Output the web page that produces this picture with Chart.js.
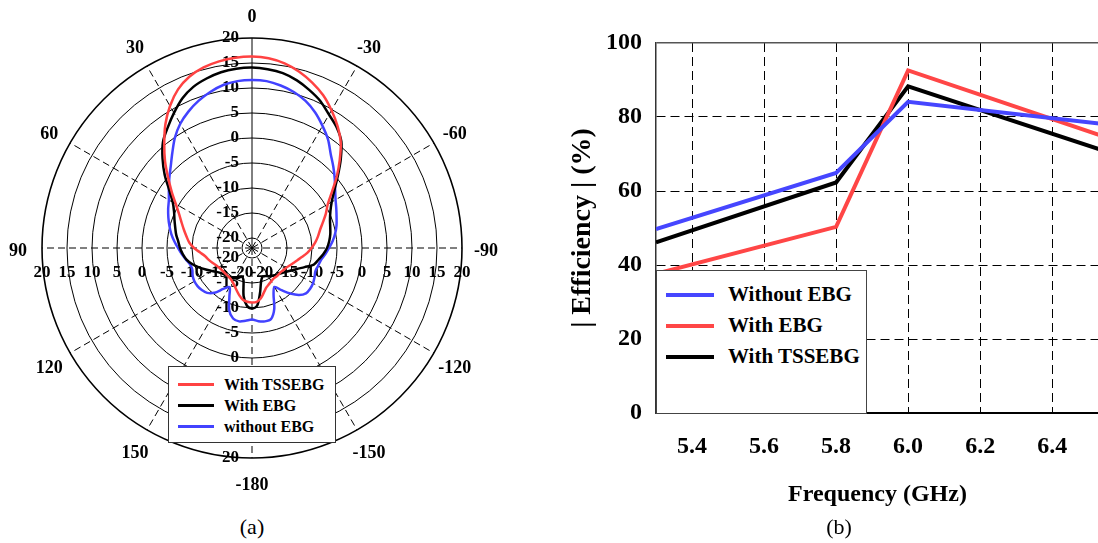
<!DOCTYPE html>
<html>
<head>
<meta charset="utf-8">
<script src="https://cdn.jsdelivr.net/npm/chart.js@4.4.1/dist/chart.umd.min.js"></script>
<style>
  html, body { margin: 0; padding: 0; background: #fff; }
  body { width: 1098px; height: 543px; overflow: hidden; position: relative;
         font-family: "Liberation Serif", "Times New Roman", serif; color: #000; }
  #polarBox { position: absolute; left: 0; top: 0; }
  #effBox { position: absolute; left: 540px; top: 0; }
  .legend { position: absolute; background: #fff; box-sizing: border-box; font-weight: bold; }
  .legend .row { display: flex; align-items: center; white-space: nowrap; }
  .legend .swatch { display: inline-block; }
  #legendA { left: 168px; top: 366px; width: 168px; height: 77px; padding: 7px 0 0 9px;
             font-size: 16px; border: 1px solid #333; }
  #legendA .row { height: 21px; }
  #legendA .swatch { width: 36px; height: 3px; margin-right: 10px; }
  #legendB { left: 656px; top: 270px; width: 211px; height: 144px; padding: 8px 0 0 9px;
             font-size: 21px; border: 1.5px solid #444; }
  #legendB .row { height: 31px; }
  #legendB .swatch { width: 48px; height: 4px; margin-right: 14px; }
  .caption { position: absolute; font-size: 22px; line-height: 1; transform: translateX(-50%); }
</style>
</head>
<body>
<div id="polarBox"><canvas id="polarChart" width="504" height="500"></canvas></div>
<div id="effBox"><canvas id="effChart" width="560" height="543"></canvas></div>
<div class="legend" id="legendA"></div>
<div class="legend" id="legendB"></div>
<div class="caption" style="left:252px; top:516px;">(a)</div>
<div class="caption" style="left:839px; top:516px;">(b)</div>
<script>
// (a) radiation pattern, dB, angles in the order the radar draws them (clockwise from top)
const polarAngles = [
  0, -5, -10, -15, -20, -25, -30, -35, -40, -45, -50, -55,
  -60, -65, -70, -75, -80, -85, -90, -95, -100, -105, -110, -115,
  -120, -125, -130, -135, -140, -145, -150, -155, -160, -165, -170, -175,
  -180, 175, 170, 165, 160, 155, 150, 145, 140, 135, 130, 125,
  120, 115, 110, 105, 100, 95, 90, 85, 80, 75, 70, 65,
  60, 55, 50, 45, 40, 35, 30, 25, 20, 15, 10, 5
];
const gainTSSEBG = [
  16.3, 16.1, 15.5, 14.5, 13.2, 11.7, 9.8, 7.8, 5.6, 2.8, 0.1, -2.5,
  -4.5, -5.7, -6.9, -7.9, -8.6, -9.3, -10.1, -10.9, -11.8, -12.6, -13.2, -13.7,
  -14.1, -14.3, -14.5, -14.5, -14.5, -14.5, -14.3, -14.0, -13.6, -12.8, -11.8, -11.2,
  -11.1, -11.2, -11.5, -12.2, -13.0, -13.7, -14.2, -14.5, -14.6, -14.6, -14.6, -14.5,
  -14.3, -14.0, -13.5, -13.0, -12.5, -11.6, -10.4, -9.4, -8.7, -7.9, -7.0, -5.9,
  -4.4, -2.4, -0.1, 2.6, 5.3, 8.2, 10.8, 13.0, 14.5, 15.4, 15.9, 16.2
];
const gainEBG = [
  14.1, 13.9, 13.5, 12.7, 11.6, 10.4, 8.8, 7.5, 5.8, 3.1, 0.4, -1.9,
  -3.6, -4.7, -5.4, -5.8, -6.1, -6.5, -7.0, -7.7, -8.5, -9.2, -10.8, -12.1,
  -13.0, -13.7, -14.2, -14.6, -14.9, -15.2, -15.5, -15.8, -15.9, -15.0, -12.8, -10.4,
  -9.9, -10.4, -12.3, -15.4, -15.9, -15.4, -15.0, -14.8, -14.6, -14.4, -14.1, -13.6,
  -12.8, -11.8, -10.7, -9.6, -8.7, -8.1, -7.6, -7.2, -6.6, -6.1, -5.5, -4.8,
  -3.7, -1.8, 0.8, 3.3, 5.7, 7.4, 9.2, 11.0, 12.3, 13.1, 13.7, 14.0
];
const gainNoEBG = [
  11.6, 11.5, 11.0, 10.3, 9.3, 7.9, 6.2, 4.5, 2.5, 1.0, -0.4, -1.7,
  -2.7, -3.4, -4.0, -4.5, -5.1, -5.8, -6.6, -7.3, -8.0, -8.3, -8.5, -8.2,
  -7.9, -7.8, -7.9, -8.7, -10.1, -11.7, -13.0, -11.8, -9.0, -7.3, -7.1, -7.3,
  -7.7, -7.4, -7.1, -7.4, -8.7, -11.3, -13.0, -12.0, -10.3, -9.3, -8.9, -8.7,
  -8.7, -8.9, -9.3, -9.2, -8.6, -7.9, -7.2, -6.4, -5.6, -4.9, -4.2, -3.5,
  -2.8, -1.7, -0.4, 1.0, 2.8, 4.9, 6.7, 8.1, 9.3, 10.3, 11.1, 11.5
];
const gainRings = [-20, -15, -10, -5, 0, 5, 10, 15, 20];

// (b) efficiency vs frequency
const freqGHz = [5.3, 5.8, 6.0, 6.6];
const effWithoutEBG = [49.7, 64.9, 84.1, 77.5];
const effWithEBG = [37.6, 50.3, 92.6, 72.9];
const effWithTSSEBG = [46.1, 62.3, 88.3, 69.1];
const freqTicks = [5.4, 5.6, 5.8, 6.0, 6.2, 6.4];
const effTicks = [0, 20, 40, 60, 80, 100];

const serif = '"Liberation Serif", "Times New Roman", serif';

// ring values along the four axes, angle names around the rim
const polarText = {
  id: 'polarText',
  beforeDatasetsDraw(chart) {
    const r = chart.scales.r;
    const ctx = chart.ctx;
    ctx.save();
    ctx.font = 'bold 17px ' + serif;
    ctx.fillStyle = '#000';
    ctx.textBaseline = 'middle';
    gainRings.forEach(v => {
      const d = r.getDistanceFromCenterForValue(v);
      const t = String(v);
      ctx.textAlign = 'right';
      ctx.fillText(t, r.xCenter - 13, r.yCenter - d);
      ctx.fillText(t, r.xCenter - 13, r.yCenter + d);
      ctx.textAlign = 'center';
      ctx.fillText(t, r.xCenter - d, r.yCenter + 25);
      ctx.fillText(t, r.xCenter + d, r.yCenter + 25);
    });
    ctx.font = 'bold 18px ' + serif;
    ctx.textAlign = 'center';
    chart.data.labels.forEach((lbl, i) => {
      if (i % 6 !== 0) return;
      const p = r.getPointPosition(i, r.drawingArea + 24);
      ctx.fillText(lbl, p.x, p.y + 3);
    });
    ctx.restore();
  }
};

const polarChart = new Chart(document.getElementById('polarChart'), {
  type: 'radar',
  data: {
    labels: polarAngles.map(String),
    datasets: [
      { label: 'With TSSEBG', data: gainTSSEBG, borderColor: '#ff4242' },
      { label: 'With EBG', data: gainEBG, borderColor: '#000000' },
      { label: 'without EBG', data: gainNoEBG, borderColor: '#4242ff' }
    ]
  },
  options: {
    responsive: false,
    animation: false,
    layout: { padding: { left: 42, right: 42, top: 38, bottom: 42 } },
    plugins: { legend: { display: false }, tooltip: { enabled: false } },
    elements: {
      point: { radius: 0 },
      line: { borderWidth: 2.5, tension: 0.3, fill: false }
    },
    scales: {
      r: {
        min: -22,
        max: 20,
        startAngle: 0,
        afterBuildTicks: s => { s.ticks = gainRings.map(v => ({ value: v })); },
        ticks: { display: false },
        grid: {
          circular: true,
          color: '#000',
          lineWidth: c => (c.tick && c.tick.value === 20 ? 1.6 : 1)
        },
        angleLines: {
          display: true,
          color: '#000',
          lineWidth: c => (c.index % 6 === 0 ? 1 : 0),
          borderDash: c => (c.index === 0 ? [] : [7, 4])
        },
        pointLabels: { display: false }
      }
    }
  },
  plugins: [polarText]
});

const effChart = new Chart(document.getElementById('effChart'), {
  type: 'line',
  data: {
    datasets: [
      { label: 'Without EBG', data: freqGHz.map((f, i) => ({ x: f, y: effWithoutEBG[i] })), borderColor: '#4646ff' },
      { label: 'With EBG', data: freqGHz.map((f, i) => ({ x: f, y: effWithEBG[i] })), borderColor: '#ff4646' },
      { label: 'With TSSEBG', data: freqGHz.map((f, i) => ({ x: f, y: effWithTSSEBG[i] })), borderColor: '#000000' }
    ]
  },
  options: {
    responsive: false,
    animation: false,
    layout: { padding: { top: 43, right: 1, left: 0, bottom: 0 } },
    plugins: { legend: { display: false }, tooltip: { enabled: false } },
    elements: {
      point: { radius: 0 },
      line: { borderWidth: 4, tension: 0 }
    },
    scales: {
      x: {
        type: 'linear',
        min: 5.3,
        max: 6.53,
        afterBuildTicks: s => { s.ticks = freqTicks.map(v => ({ value: v })); },
        afterFit: s => { s.height = 130; },
        ticks: {
          padding: 19,
          color: '#000',
          autoSkip: false,
          maxRotation: 0,
          font: { family: serif, size: 24, weight: 'bold' },
          callback: v => v.toFixed(1)
        },
        grid: { color: '#000', lineWidth: 1, drawTicks: false },
        border: { display: true, color: '#000', width: 2, dash: c => (c.type === 'tick' ? [9, 5] : []) },
        title: {
          display: true,
          text: 'Frequency (GHz)',
          color: '#000',
          font: { family: serif, size: 24, weight: 'bold' },
          padding: { top: 0, bottom: 34 }
        }
      },
      y: {
        min: 0,
        max: 100,
        afterBuildTicks: s => { s.ticks = effTicks.map(v => ({ value: v })); },
        afterFit: s => { s.width = 116; },
        ticks: {
          padding: 14,
          color: '#000',
          font: { family: serif, size: 24, weight: 'bold' }
        },
        grid: {
          color: c => {
            if (c.tick && c.tick.value === 0) return 'rgba(0,0,0,0)';
            return c.tick && c.tick.value === 100 ? '#555' : '#000';
          },
          lineWidth: c => (c.tick && c.tick.value === 100 ? 1.5 : 1),
          drawTicks: false
        },
        border: {
          display: true,
          color: '#333',
          width: 1.5,
          dash: c => (c.type === 'tick' && c.tick.value !== 100 ? [9, 5] : [])
        },
        title: {
          display: true,
          text: '| Efficiency | (%)',
          color: '#000',
          font: { family: serif, size: 28, weight: 'bold' },
          padding: { top: 26, bottom: 0 }
        }
      }
    }
  }
});

function buildLegend(el, chart) {
  chart.data.datasets.forEach(ds => {
    const row = document.createElement('div');
    row.className = 'row';
    const sw = document.createElement('span');
    sw.className = 'swatch';
    sw.style.background = ds.borderColor;
    const txt = document.createElement('span');
    txt.textContent = ds.label;
    row.appendChild(sw);
    row.appendChild(txt);
    el.appendChild(row);
  });
}
buildLegend(document.getElementById('legendA'), polarChart);
buildLegend(document.getElementById('legendB'), effChart);
</script>
</body>
</html>
